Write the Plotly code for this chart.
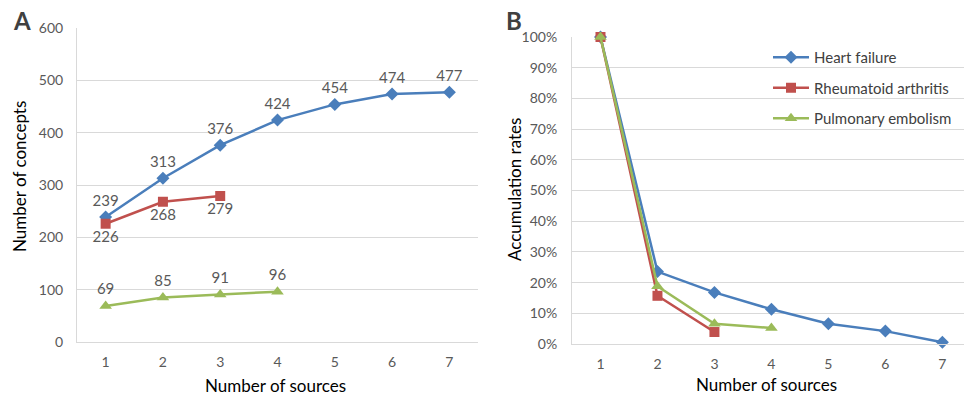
import plotly.graph_objects as go

sources = [1, 2, 3, 4, 5, 6, 7]
hf_concepts = [239, 313, 376, 424, 454, 474, 477]
ra_concepts = [226, 268, 279]
pe_concepts = [69, 85, 91, 96]

hf_rates = [1.0, 0.236, 0.168, 0.113, 0.066, 0.042, 0.006]
ra_rates = [1.0, 0.157, 0.039]
pe_rates = [1.0, 0.188, 0.066, 0.052]

names = ["Heart failure", "Rheumatoid arthritis", "Pulmonary embolism"]
colors = ["#4A7EBB", "#C0504D", "#9BBB59"]
symbols = ["diamond", "square", "triangle-up"]
msizes = [10, 10, 11]

FONT = "Lato"
TICK = "#595959"
GRID = "#D9D9D9"

fig = go.Figure()

concepts = [hf_concepts, ra_concepts, pe_concepts]
rates = [hf_rates, ra_rates, pe_rates]
tpos = ["top center", "bottom center", "top center"]

for i in range(3):
    n = len(concepts[i])
    fig.add_trace(go.Scatter(
        x=sources[:n], y=concepts[i], mode="lines+markers+text",
        text=[str(v) for v in concepts[i]], textposition=tpos[i],
        textfont=dict(family=FONT, size=15, color=TICK),
        line=dict(color=colors[i], width=2.5),
        marker=dict(symbol=symbols[i], size=msizes[i], color=colors[i]),
        showlegend=False, xaxis="x", yaxis="y", cliponaxis=False))

for i in range(3):
    n = len(rates[i])
    fig.add_trace(go.Scatter(
        x=sources[:n], y=rates[i], mode="lines+markers", name=names[i],
        legendgroup=names[i],
        line=dict(color=colors[i], width=2.5),
        marker=dict(symbol=symbols[i], size=msizes[i], color=colors[i]),
        xaxis="x2", yaxis="y2", cliponaxis=False))

W, H = 964, 399
axis_common = dict(showline=True, linecolor=GRID, linewidth=1, mirror=False,
                   tickfont=dict(family=FONT, size=14, color=TICK), ticks="",
                   zeroline=False, automargin=False)

fig.update_layout(
    width=W, height=H, margin=dict(l=0, r=0, t=0, b=0),
    plot_bgcolor="white", paper_bgcolor="white",
    font=dict(family=FONT),
    xaxis=dict(domain=[77 / W, 478 / W], range=[0.5, 7.5], tickvals=sources,
               showgrid=False, anchor="y", ticklabelstandoff=7, **axis_common),
    yaxis=dict(domain=[1 - 342 / H, 1 - 28 / H], range=[0, 600], dtick=100,
               showgrid=True, gridcolor=GRID, anchor="x", ticklabelstandoff=10,
               **axis_common),
    xaxis2=dict(domain=[572 / W, 1.0], range=[0.5, 7.38], tickvals=sources,
                showgrid=False, anchor="y2", ticklabelstandoff=7, **axis_common),
    yaxis2=dict(domain=[1 - 344 / H, 1 - 37 / H], range=[0, 1], dtick=0.1,
                tickformat=".0%", showgrid=True, gridcolor=GRID, anchor="x2",
                ticklabelstandoff=11, **axis_common),
    legend=dict(x=768 / W, y=1 - 41 / H, xanchor="left", yanchor="top",
                bgcolor="rgba(0,0,0,0)", font=dict(family=FONT, size=15, color="#404040"),
                traceorder="grouped", tracegroupgap=8, itemwidth=36),
)

fig.add_shape(type="rect", xref="paper", yref="paper", layer="between",
              x0=756 / W, x1=1.0, y0=1 - 136 / H, y1=1 - 38 / H,
              fillcolor="white", line=dict(width=0))

ann = [
    dict(text="<b>A</b>", x=22 / W, y=1 - 21 / H),
    dict(text="<b>B</b>", x=514 / W, y=1 - 21 / H),
]
for a in ann:
    fig.add_annotation(text=a["text"], x=a["x"], y=a["y"], xref="paper", yref="paper",
                       showarrow=False, xanchor="center", yanchor="middle",
                       font=dict(family=FONT, size=24, color="#404040"))

titles = [
    ("Number of sources", 275, 385, 0),
    ("Number of sources", 766, 384, 0),
    ("Number of concepts", 20, 177, -90),
    ("Accumulation rates", 514, 190, -90),
]
for t, x, y, ang in titles:
    fig.add_annotation(text=t, x=x / W, y=1 - y / H, xref="paper", yref="paper",
                       showarrow=False, xanchor="center", yanchor="middle",
                       textangle=ang, font=dict(family=FONT, size=17, color="#000000"))

fig.write_html("out.html")
